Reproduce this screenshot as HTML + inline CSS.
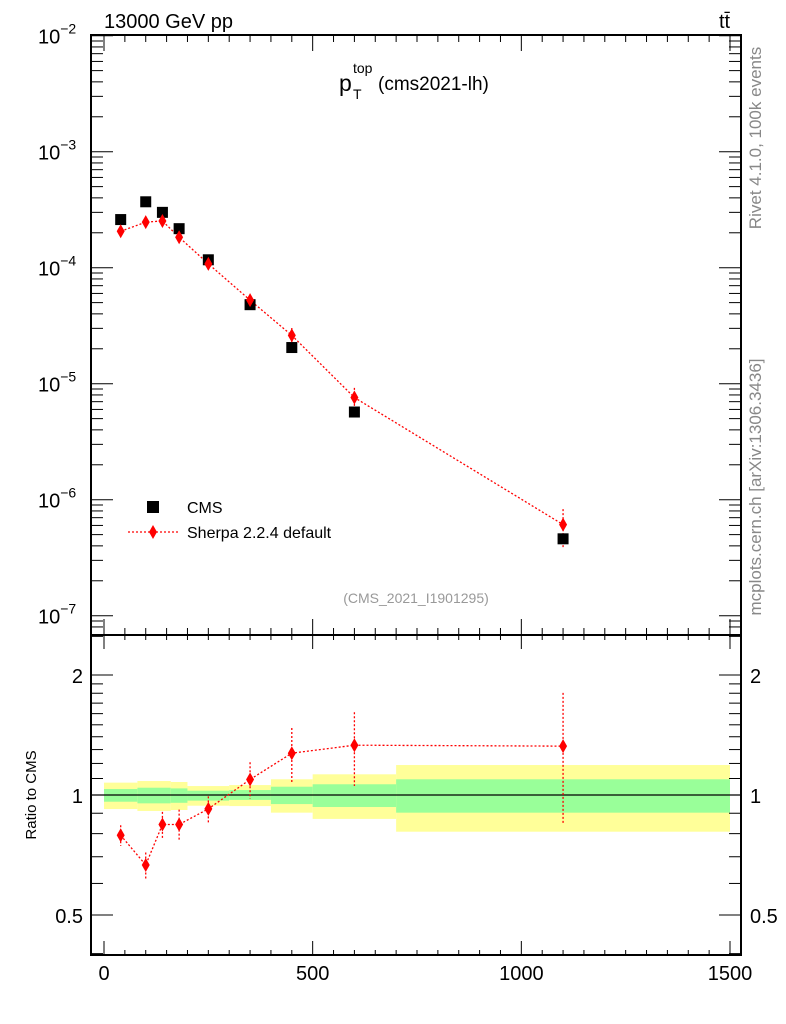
<!DOCTYPE html>
<html><head><meta charset="utf-8"><style>
html,body{margin:0;padding:0;background:#fff;}
svg{display:block;font-family:"Liberation Sans",Arial,sans-serif;}
</style></head><body>
<svg id="c" width="786" height="1024" viewBox="0 0 786 1024" xmlns="http://www.w3.org/2000/svg">
<rect x="0" y="0" width="786" height="1024" fill="#fff"/>
<g id="bands"></g>
<g id="ticks"></g>
<g id="series"></g>
<text x="104" y="28" font-size="20">13000 GeV pp</text>
<text x="719" y="28" font-size="20">tt̄</text>
<text x="339" y="91" font-size="23">p</text>
<text x="353" y="73" font-size="14">top</text>
<text x="353" y="99" font-size="14">T</text>
<text x="378" y="90" font-size="19">(cms2021-lh)</text>
<text x="416" y="603" font-size="14" fill="#999" text-anchor="middle">(CMS_2021_I1901295)</text>
<text transform="translate(761,138) rotate(-90)" font-size="17" fill="#888" text-anchor="middle">Rivet 4.1.0,  100k events</text>
<text transform="translate(761,487) rotate(-90)" font-size="17" fill="#888" text-anchor="middle">mcplots.cern.ch [arXiv:1306.3436]</text>
<text transform="translate(36,795) rotate(-90)" font-size="15" text-anchor="middle">Ratio to CMS</text>
<g>
<rect x="147" y="501" width="12" height="12" fill="#000"/>
<text x="187" y="513" font-size="16">CMS</text>
<line x1="128" y1="532" x2="178" y2="532" stroke="red" stroke-width="1.3" stroke-dasharray="2,2"/>
<path d="M153,525 L157,532 L153,539 L149,532 Z" fill="red"/>
<text x="187" y="538" font-size="16">Sherpa 2.2.4 default</text>
</g>
</svg>
<script>
const xCenters=[40,100,140,180,250,350,450,600,1100];
const cmsValues=[2.6e-4,3.7e-4,3.0e-4,2.17e-4,1.17e-4,4.8e-5,2.05e-5,5.7e-6,4.6e-7];
const mcValues=[2.06e-4,2.47e-4,2.53e-4,1.83e-4,1.08e-4,5.25e-5,2.61e-5,7.6e-6,6.1e-7];
const mcErrRel=[0.06,0.075,0.076,0.09,0.075,0.105,0.157,0.21,0.36];
const bandEdges=[0,80,160,200,300,400,500,700,1500];
const yellowHi=[1.074,1.084,1.078,1.053,1.059,1.095,1.127,1.189];
const yellowLo=[0.922,0.912,0.917,0.940,0.938,0.903,0.871,0.809];
const greenHi=[1.035,1.043,1.039,1.025,1.029,1.049,1.064,1.095];
const greenLo=[0.962,0.953,0.956,0.968,0.972,0.949,0.933,0.903];
const xTickLabels=[0,500,1000,1500];
const yExpLabels=[-2,-3,-4,-5,-6,-7];
const ratioLabels=[0.5,1,2];

const NS="http://www.w3.org/2000/svg";
const L=91,R=741,T=35,D=635,B=955;
const X=v=>104+v*(626/1500);
const Y=v=>35.7+(-2-Math.log10(v))*116;
const RY=v=>795-Math.log2(v)*120;
function mk(tag,attrs,parent){const e=document.createElementNS(NS,tag);for(const k in attrs)e.setAttribute(k,attrs[k]);parent.appendChild(e);return e;}
const svg=document.getElementById('c'),gb=document.getElementById('bands'),gt=document.getElementById('ticks'),gs=document.getElementById('series');

for(let i=0;i<bandEdges.length-1;i++){
  const x1=X(bandEdges[i]),x2=X(bandEdges[i+1]);
  let r=mk('rect',{x:x1,y:RY(yellowHi[i]),width:x2-x1,height:RY(yellowLo[i])-RY(yellowHi[i]),fill:'#ffff99'},gb);
  
  
  r=mk('rect',{x:x1,y:RY(greenHi[i]),width:x2-x1,height:RY(greenLo[i])-RY(greenHi[i]),fill:'#99ff99'},gb);
  
  
}
let ln=mk('line',{x1:L,y1:795,x2:R,y2:795,stroke:'#000','stroke-width':1.2},gb);



function line(x1,y1,x2,y2,w){return mk('line',{x1,y1,x2,y2,stroke:'#000','stroke-width':w||1},gt);}
let f=mk('rect',{x:L,y:T,width:R-L,height:D-T,fill:'none',stroke:'#000','stroke-width':2},gt);


f=mk('rect',{x:L,y:D,width:R-L,height:B-D,fill:'none',stroke:'#000','stroke-width':2},gt);



for(let v=0;v<=1500;v+=50){
  const x=X(v),maj=v%500===0;
  line(x,B,x,B-(maj?14:5));line(x,D,x,D+(maj?14:5));line(x,D,x,D-(maj?16:7));line(x,T,x,T+(maj?16:7));
}
xTickLabels.forEach(v=>{const t=mk('text',{x:X(v),y:980,'font-size':20,'text-anchor':'middle'},svg);t.textContent=v;
  
  });
for(let e=-7;e<=-3;e++){for(let m=1;m<10;m++){const y=Y(m*Math.pow(10,e));const len=m===1?22:12;line(L,y,L+len,y);line(R,y,R-len,y);}}
line(L,Y(1e-2),L+22,Y(1e-2));line(R,Y(1e-2),R-22,Y(1e-2));
for(let m=8;m<10;m++){const y=Y(m*1e-8);if(y<D){line(L,y,L+12,y);line(R,y,R-12,y);}}
yExpLabels.forEach(e=>{const y=Y(Math.pow(10,e));const t=mk('text',{x:38,y:y+8,'font-size':20},svg);t.textContent='10';
  
  
  const s=mk('tspan',{dy:-10,'font-size':14},t);s.textContent='\u2212'+(-e);});
[0.4,0.5,0.6,0.7,0.8,0.9,1,1.1,1.2,1.3,1.4,1.5,1.6,1.7,1.8,1.9,2,2.5].forEach(v=>{const y=RY(v);if(y<D||y>B)return;const maj=ratioLabels.includes(v);const len=maj?22:12;line(L,y,L+len,y);line(R,y,R-len,y);});
ratioLabels.forEach(v=>{[[83,'end'],[750,'start']].forEach(p=>{const t=mk('text',{x:p[0],y:RY(v)+8,'font-size':20,'text-anchor':p[1]},svg);t.textContent=v;
  
  });});

const dash={stroke:'red','stroke-width':1.3,'stroke-dasharray':'2,2',fill:'none'};
let pts=xCenters.map((x,i)=>X(x)+','+Y(mcValues[i])).join(' ');
let pl=mk('polyline',Object.assign({points:pts},dash),gs);


pts=xCenters.map((x,i)=>X(x)+','+RY(mcValues[i]/cmsValues[i])).join(' ');
pl=mk('polyline',Object.assign({points:pts},dash),gs);


function diamond(x,y){return `M${x},${y-7} L${x+4},${y} L${x},${y+7} L${x-4},${y} Z`;}
xCenters.forEach((xv,i)=>{
  const x=X(xv);
  const m=mcValues[i],e=mcErrRel[i];
  let el=mk('line',Object.assign({x1:x,y1:Y(m*(1+e)),x2:x,y2:Y(m*(1-e))},dash),gs);
  
  
  const c=cmsValues[i];
  el=mk('rect',{x:x-5.5,y:Y(c)-5.5,width:11,height:11,fill:'#000'},gs);
  
  
  el=mk('path',{d:diamond(x,Y(m)),fill:'red'},gs);
  
  
  const r=m/c;
  el=mk('line',Object.assign({x1:x,y1:RY(r*(1+e)),x2:x,y2:RY(r*(1-e))},dash),gs);
  
  
  el=mk('path',{d:diamond(x,RY(r)),fill:'red'},gs);
  
  
});
</script>
</body></html>
